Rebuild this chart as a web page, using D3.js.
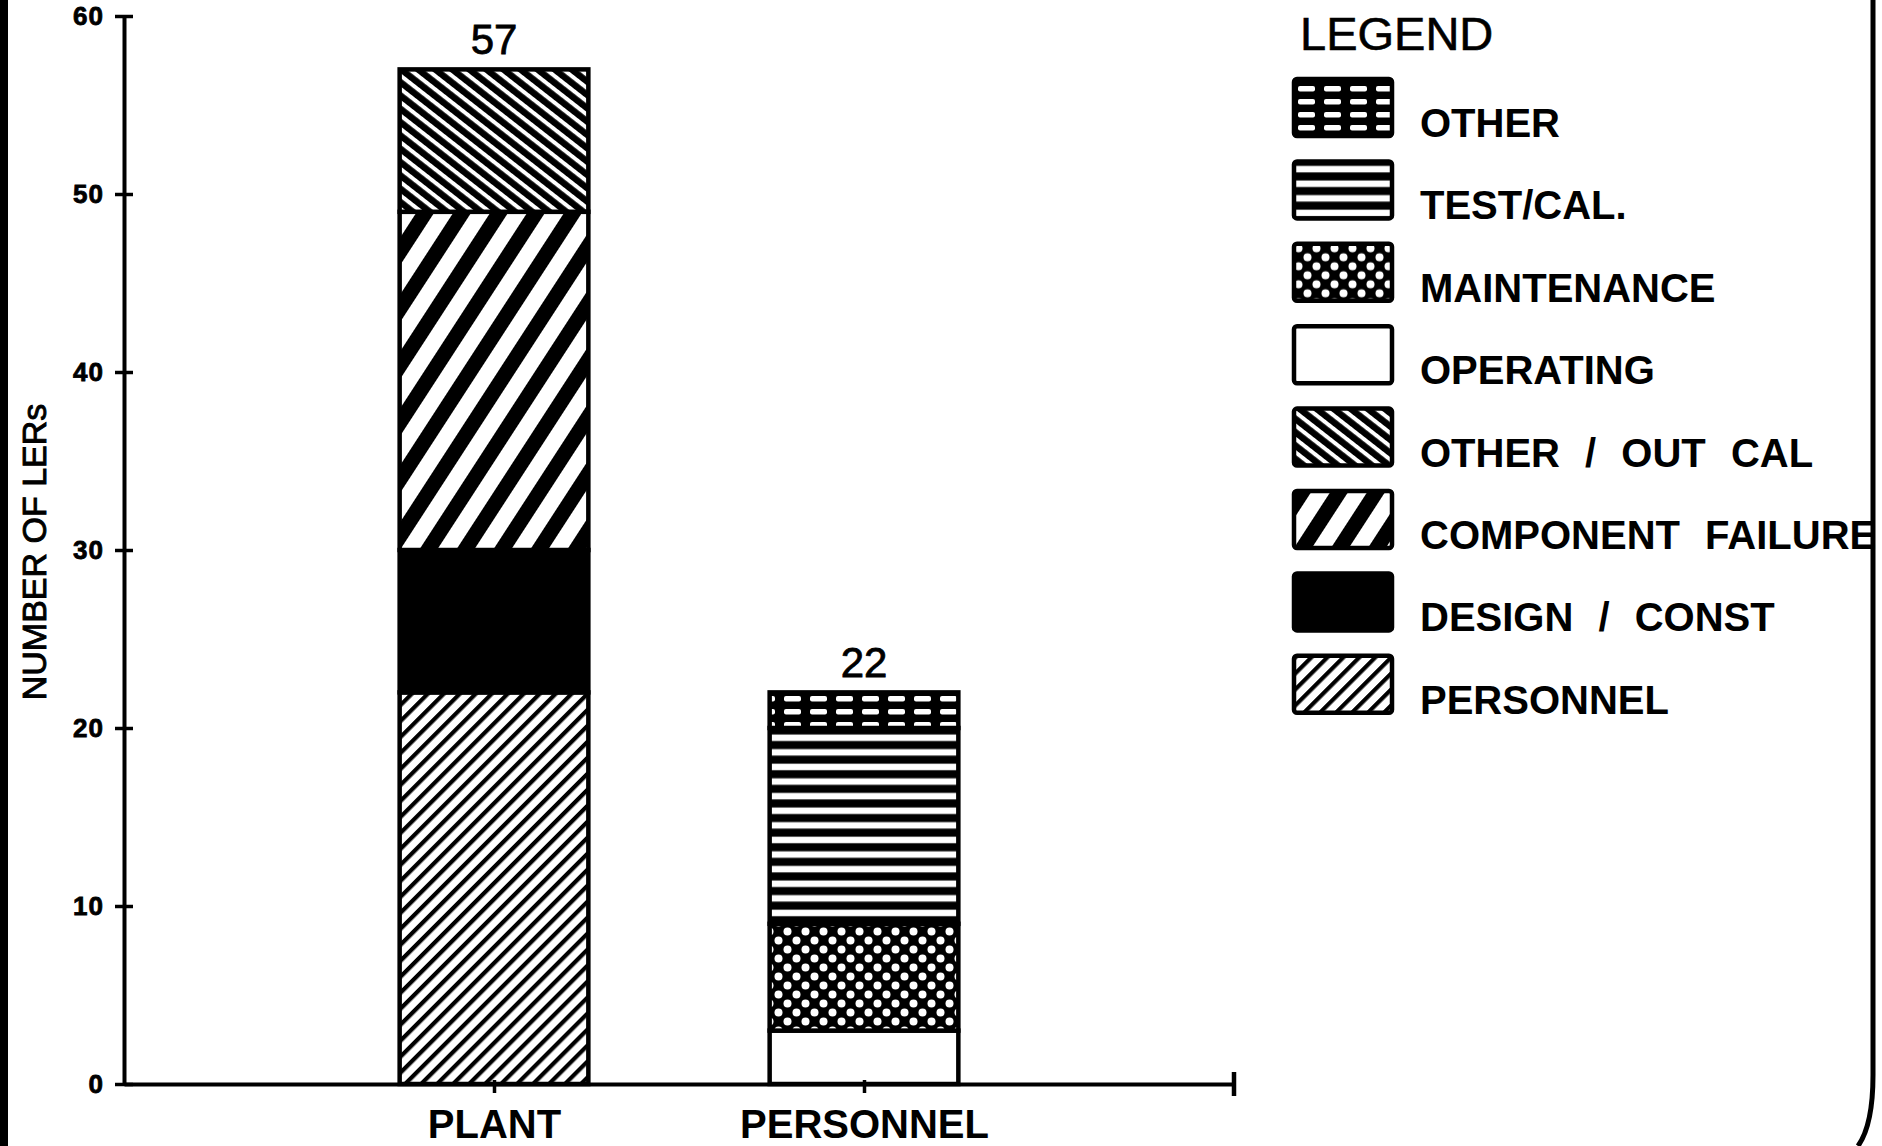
<!DOCTYPE html>
<html>
<head>
<meta charset="utf-8">
<script src="https://cdn.jsdelivr.net/npm/d3@7/dist/d3.min.js"></script>
<style>
  body { margin: 0; background: #fff; }
  svg { display: block; font-family: "Liberation Sans", Arial, sans-serif; }
</style>
</head>
<body>
<svg width="1882" height="1146"></svg>
<script>
// data
var categories = ["PLANT", "PERSONNEL"];
var personnel   = [22, 0];
var design      = [8, 0];
var component   = [19, 0];
var otherOut    = [8, 0];
var operating   = [0, 3];
var maintenance = [0, 6];
var testCal     = [0, 11];
var other       = [0, 2];
var totals      = [57, 22];
var yTicks      = [0, 10, 20, 30, 40, 50, 60];

// stack order, bottom to top
var keys = ["personnel", "design", "component", "otherOut", "operating", "maintenance", "testCal", "other"];
var legendOrder = ["other", "testCal", "maintenance", "operating", "otherOut", "component", "design", "personnel"];
var legendLabels = {
    other: "OTHER",
    testCal: "TEST/CAL.",
    maintenance: "MAINTENANCE",
    operating: "OPERATING",
    otherOut: "OTHER / OUT CAL",
    component: "COMPONENT FAILURE",
    design: "DESIGN / CONST",
    personnel: "PERSONNEL"
};
var series = {
    personnel: personnel, design: design, component: component, otherOut: otherOut,
    operating: operating, maintenance: maintenance, testCal: testCal, other: other
};

var rows = categories.map(function (c, i) {
    var r = { cat: c };
    keys.forEach(function (k) { r[k] = series[k][i]; });
    return r;
});

var svg = d3.select("svg");

var x = d3.scalePoint().domain(categories).range([124, 1234]).padding(1),
    y = d3.scaleLinear().domain([0, 60]).range([1084, 16]),
    barWidth = x.step() * 0.51;

// hatch patterns
var defs = svg.append("defs");

function stripes(id, period, black, angle) {
    var p = defs.append("pattern")
        .attr("id", id)
        .attr("patternUnits", "userSpaceOnUse")
        .attr("width", period)
        .attr("height", period)
        .attr("patternTransform", "rotate(" + angle + ")");
    p.append("rect").attr("width", period).attr("height", period).attr("fill", "#fff");
    p.append("rect").attr("width", black).attr("height", period).attr("fill", "#000");
}
stripes("p-personnel", 11.3, 4.2, 45);
stripes("p-otherOut", 10.5, 6.5, -52);
stripes("p-component", 31, 15, 33);

var pm = defs.append("pattern").attr("id", "p-maintenance")
    .attr("patternUnits", "userSpaceOnUse").attr("width", 18).attr("height", 18);
pm.append("rect").attr("width", 18).attr("height", 18).attr("fill", "#000");
pm.append("circle").attr("cx", 4.5).attr("cy", 4.5).attr("r", 4).attr("fill", "#fff");
pm.append("circle").attr("cx", 13.5).attr("cy", 13.5).attr("r", 4).attr("fill", "#fff");

var pt = defs.append("pattern").attr("id", "p-testCal")
    .attr("patternUnits", "userSpaceOnUse").attr("width", 20).attr("height", 14.6);
pt.append("rect").attr("width", 20).attr("height", 14.6).attr("fill", "#000");
pt.append("rect").attr("y", 4.5).attr("width", 20).attr("height", 6.5).attr("fill", "#fff");

var po = defs.append("pattern").attr("id", "p-other")
    .attr("patternUnits", "userSpaceOnUse").attr("width", 26).attr("height", 13)
    .attr("y", 3);
po.append("rect").attr("width", 26).attr("height", 13).attr("fill", "#000");
po.append("rect").attr("x", 4).attr("y", 4).attr("width", 17).attr("height", 5.5)
    .attr("rx", 2).attr("fill", "#fff");

var fills = {
    personnel: "url(#p-personnel)",
    design: "#000",
    component: "url(#p-component)",
    otherOut: "url(#p-otherOut)",
    operating: "#fff",
    maintenance: "url(#p-maintenance)",
    testCal: "url(#p-testCal)",
    other: "url(#p-other)"
};

// page frame left over from the scan
svg.append("line")
    .attr("x1", 4).attr("x2", 4).attr("y1", 0).attr("y2", 1146)
    .attr("stroke", "#000").attr("stroke-width", 8);
svg.append("path")
    .attr("d", "M1873,0 L1873,1075 Q1873,1125 1858,1146")
    .attr("fill", "none").attr("stroke", "#000").attr("stroke-width", 5);

// stacked bars
var stacked = d3.stack().keys(keys)(rows);

svg.append("g")
    .selectAll("g")
    .data(stacked)
    .enter().append("g")
    .attr("fill", function (d) { return fills[d.key]; })
    .selectAll("rect")
    .data(function (d) { return d.filter(function (s) { return s[1] > s[0]; }); })
    .enter().append("rect")
    .attr("x", function (d) { return x(d.data.cat) - barWidth / 2; })
    .attr("y", function (d) { return y(d[1]); })
    .attr("width", barWidth)
    .attr("height", function (d) { return y(d[0]) - y(d[1]); })
    .attr("stroke", "#000")
    .attr("stroke-width", 4.5);

// totals above bars
svg.append("g")
    .selectAll("text")
    .data(categories)
    .enter().append("text")
    .attr("x", function (d) { return x(d); })
    .attr("y", function (d, i) { return y(totals[i]) - 15; })
    .attr("text-anchor", "middle")
    .style("font-size", "42px")
    .attr("stroke", "#000")
    .attr("stroke-width", 0.8)
    .text(function (d, i) { return totals[i]; });

// y axis
var yAxis = svg.append("g")
    .attr("transform", "translate(124,0)")
    .call(d3.axisLeft(y).tickValues(yTicks).tickSizeInner(9).tickSizeOuter(0).tickPadding(11));
yAxis.select(".domain").attr("stroke-width", 4);
yAxis.selectAll(".tick line").attr("x1", -9).attr("x2", 9).attr("stroke-width", 3.5);
yAxis.selectAll(".tick text")
    .style("font-size", "26px")
    .style("font-weight", "bold")
    .style("letter-spacing", "1px")
    .attr("stroke", "#000")
    .attr("stroke-width", 0.8);

// x axis
var xAxis = svg.append("g")
    .attr("transform", "translate(0,1084)")
    .call(d3.axisBottom(x).tickSizeInner(9).tickSizeOuter(0));
xAxis.select(".domain").attr("stroke-width", 4);
xAxis.selectAll(".tick line").attr("y1", -4).attr("y2", 9).attr("stroke-width", 3.5);
xAxis.selectAll(".tick text")
    .attr("y", 54).attr("dy", 0)
    .style("font-size", "40px")
    .style("font-weight", "bold");
xAxis.append("line")
    .attr("x1", x.range()[1]).attr("x2", x.range()[1])
    .attr("y1", -12).attr("y2", 12)
    .attr("stroke", "#000").attr("stroke-width", 4.5);

// y axis title
svg.append("text")
    .attr("transform", "translate(46,552) rotate(-90)")
    .attr("text-anchor", "middle")
    .style("font-size", "34px")
    .attr("stroke", "#000")
    .attr("stroke-width", 0.9)
    .text("NUMBER OF LERs");

// legend
var legend = svg.append("g").attr("transform", "translate(1294,0)");
legend.append("text")
    .attr("x", 6).attr("y", 50)
    .style("font-size", "47px")
    .attr("stroke", "#000")
    .attr("stroke-width", 0.6)
    .text("LEGEND");

var item = legend.selectAll(".item")
    .data(legendOrder)
    .enter().append("g")
    .attr("class", "item")
    .attr("transform", function (d, i) { return "translate(0," + (79 + i * 82.4) + ")"; });
item.append("rect")
    .attr("width", 98).attr("height", 57)
    .attr("rx", 3)
    .attr("fill", function (d) { return fills[d]; })
    .attr("stroke", "#000")
    .attr("stroke-width", 4.5);
item.append("text")
    .attr("x", 126).attr("y", 58)
    .style("font-size", "40px")
    .style("font-weight", "bold")
    .style("word-spacing", "14px")
    .text(function (d) { return legendLabels[d]; });
</script>
</body>
</html>
